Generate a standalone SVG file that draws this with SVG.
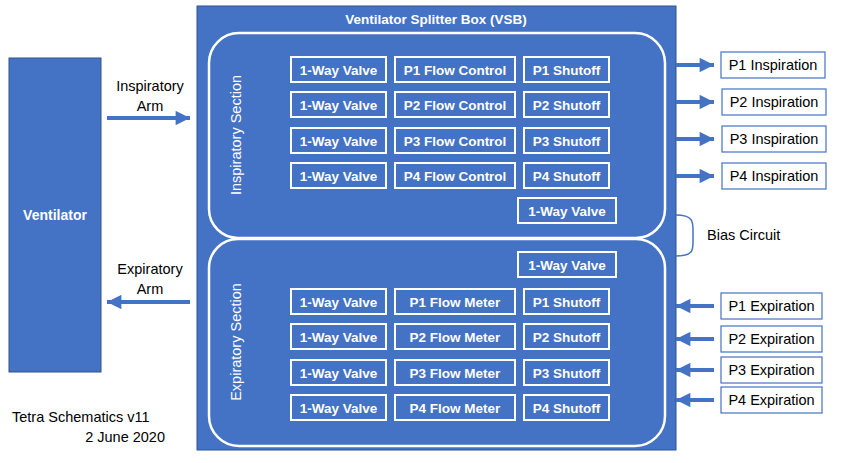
<svg xmlns="http://www.w3.org/2000/svg" width="842" height="463" viewBox="0 0 842 463">
<style>
.blue{fill:#4472C4;stroke:#2F528F;stroke-width:1}
.sec{fill:none;stroke:#fff;stroke-width:2.5}
.cell{fill:none;stroke:#fff;stroke-width:2}
.wt{fill:#fff;font-family:"Liberation Sans",Arial,sans-serif;font-size:13.5px;font-weight:bold;text-anchor:middle}
.st{fill:#fff;font-family:"Liberation Sans",Arial,sans-serif;font-size:14.5px;text-anchor:middle}
.port{fill:#fff;stroke:#4472C4;stroke-width:1.2}
.bt{fill:#000;font-family:"Liberation Sans",Arial,sans-serif;font-size:14.5px;text-anchor:middle}
.lt{fill:#000;font-family:"Liberation Sans",Arial,sans-serif;font-size:14.5px}
.arr{stroke:#4472C4;stroke-width:4;fill:none}
</style>
<defs>
<marker id="ah" viewBox="0 0 10 10" refX="10" refY="5" markerWidth="4" markerHeight="3.6" orient="auto" markerUnits="strokeWidth">
<path d="M0,0 L10,5 L0,10 z" fill="#4472C4"/>
</marker>
</defs>
<g id="ventilator">
<rect class="blue" x="9" y="58" width="92" height="314"/>
<text class="wt" x="55" y="220" style="font-size:14px">Ventilator</text>
</g>
<g id="vsb">
<rect class="blue" x="197" y="6" width="479" height="444"/>
<text class="wt" x="436" y="24">Ventilator Splitter Box (VSB)</text>
</g>
<g id="insp-section">
<path class="sec" d="M209,63 A30,30 0 0 1 239,33 L635,33 A30,30 0 0 1 665,63 L665,209 A29,29 0 0 1 636,238 L238,238 A29,29 0 0 1 209,209 Z"/>
<text class="st" transform="translate(241,135) rotate(-90)">Inspiratory Section</text>
</g>
<g id="exp-section">
<path class="sec" d="M209,268 A29,29 0 0 1 238,239 L636,239 A29,29 0 0 1 665,268 L665,416 A30,30 0 0 1 635,446 L239,446 A30,30 0 0 1 209,416 Z"/>
<text class="st" transform="translate(241,342) rotate(-90)">Expiratory Section</text>
</g>
<g id="insp-row1">
<rect class="cell" x="291" y="57" width="95" height="25"/><text class="wt" x="338.5" y="74.5">1-Way Valve</text>
<rect class="cell" x="395" y="57" width="120" height="25"/><text class="wt" x="455" y="74.5">P1 Flow Control</text>
<rect class="cell" x="524" y="57" width="85" height="25"/><text class="wt" x="566.5" y="74.5">P1 Shutoff</text>
</g>
<g id="insp-row2">
<rect class="cell" x="291" y="92" width="95" height="25"/><text class="wt" x="338.5" y="109.5">1-Way Valve</text>
<rect class="cell" x="395" y="92" width="120" height="25"/><text class="wt" x="455" y="109.5">P2 Flow Control</text>
<rect class="cell" x="524" y="92" width="85" height="25"/><text class="wt" x="566.5" y="109.5">P2 Shutoff</text>
</g>
<g id="insp-row3">
<rect class="cell" x="291" y="128" width="95" height="25"/><text class="wt" x="338.5" y="145.5">1-Way Valve</text>
<rect class="cell" x="395" y="128" width="120" height="25"/><text class="wt" x="455" y="145.5">P3 Flow Control</text>
<rect class="cell" x="524" y="128" width="85" height="25"/><text class="wt" x="566.5" y="145.5">P3 Shutoff</text>
</g>
<g id="insp-row4">
<rect class="cell" x="291" y="163" width="95" height="25"/><text class="wt" x="338.5" y="180.5">1-Way Valve</text>
<rect class="cell" x="395" y="163" width="120" height="25"/><text class="wt" x="455" y="180.5">P4 Flow Control</text>
<rect class="cell" x="524" y="163" width="85" height="25"/><text class="wt" x="566.5" y="180.5">P4 Shutoff</text>
</g>
<g id="insp-valve">
<rect class="cell" x="518" y="198" width="98" height="25"/><text class="wt" x="567" y="215.5">1-Way Valve</text>
</g>
<g id="exp-valve">
<rect class="cell" x="518" y="252" width="98" height="25"/><text class="wt" x="567" y="269.5">1-Way Valve</text>
</g>
<g id="exp-row1">
<rect class="cell" x="291" y="289" width="95" height="25"/><text class="wt" x="338.5" y="306.5">1-Way Valve</text>
<rect class="cell" x="395" y="289" width="120" height="25"/><text class="wt" x="455" y="306.5">P1 Flow Meter</text>
<rect class="cell" x="524" y="289" width="85" height="25"/><text class="wt" x="566.5" y="306.5">P1 Shutoff</text>
</g>
<g id="exp-row2">
<rect class="cell" x="291" y="324" width="95" height="25"/><text class="wt" x="338.5" y="341.5">1-Way Valve</text>
<rect class="cell" x="395" y="324" width="120" height="25"/><text class="wt" x="455" y="341.5">P2 Flow Meter</text>
<rect class="cell" x="524" y="324" width="85" height="25"/><text class="wt" x="566.5" y="341.5">P2 Shutoff</text>
</g>
<g id="exp-row3">
<rect class="cell" x="291" y="360" width="95" height="25"/><text class="wt" x="338.5" y="377.5">1-Way Valve</text>
<rect class="cell" x="395" y="360" width="120" height="25"/><text class="wt" x="455" y="377.5">P3 Flow Meter</text>
<rect class="cell" x="524" y="360" width="85" height="25"/><text class="wt" x="566.5" y="377.5">P3 Shutoff</text>
</g>
<g id="exp-row4">
<rect class="cell" x="291" y="395" width="95" height="25"/><text class="wt" x="338.5" y="412.5">1-Way Valve</text>
<rect class="cell" x="395" y="395" width="120" height="25"/><text class="wt" x="455" y="412.5">P4 Flow Meter</text>
<rect class="cell" x="524" y="395" width="85" height="25"/><text class="wt" x="566.5" y="412.5">P4 Shutoff</text>
</g>
<g id="p1-insp"><rect class="port" x="721" y="52" width="104" height="26"/><text class="bt" x="773" y="70">P1 Inspiration</text></g>
<g id="p2-insp"><rect class="port" x="722" y="89" width="104" height="26"/><text class="bt" x="774" y="107">P2 Inspiration</text></g>
<g id="p3-insp"><rect class="port" x="722" y="126" width="104" height="26"/><text class="bt" x="774" y="144">P3 Inspiration</text></g>
<g id="p4-insp"><rect class="port" x="722" y="163" width="104" height="26"/><text class="bt" x="774" y="181">P4 Inspiration</text></g>
<g id="p1-exp"><rect class="port" x="721" y="293" width="101" height="26"/><text class="bt" x="771.5" y="311">P1 Expiration</text></g>
<g id="p2-exp"><rect class="port" x="721" y="326" width="101" height="26"/><text class="bt" x="771.5" y="344">P2 Expiration</text></g>
<g id="p3-exp"><rect class="port" x="721" y="357" width="101" height="26"/><text class="bt" x="771.5" y="375">P3 Expiration</text></g>
<g id="p4-exp"><rect class="port" x="721" y="387" width="101" height="26"/><text class="bt" x="771.5" y="405">P4 Expiration</text></g>
<g id="connectors">
<line class="arr" x1="107" y1="118" x2="190" y2="118" marker-end="url(#ah)"/>
<line class="arr" x1="190" y1="302" x2="107" y2="302" marker-end="url(#ah)"/>
<line class="arr" x1="676" y1="65" x2="714" y2="65" marker-end="url(#ah)"/>
<line class="arr" x1="676" y1="102" x2="714" y2="102" marker-end="url(#ah)"/>
<line class="arr" x1="676" y1="139" x2="714" y2="139" marker-end="url(#ah)"/>
<line class="arr" x1="676" y1="176" x2="714" y2="176" marker-end="url(#ah)"/>
<line class="arr" x1="714" y1="306" x2="676" y2="306" marker-end="url(#ah)"/>
<line class="arr" x1="714" y1="339" x2="676" y2="339" marker-end="url(#ah)"/>
<line class="arr" x1="714" y1="370" x2="676" y2="370" marker-end="url(#ah)"/>
<line class="arr" x1="714" y1="400" x2="676" y2="400" marker-end="url(#ah)"/>
<path d="M676,215 C693,215 693,222 693,230 L693,242 C693,250 693,256 676,256" fill="none" stroke="#4472C4" stroke-width="1.5"/>
</g>
<g id="labels">
<text class="bt" x="150" y="91">Inspiratory</text>
<text class="bt" x="150" y="111">Arm</text>
<text class="bt" x="150" y="274">Expiratory</text>
<text class="bt" x="150" y="294">Arm</text>
<text class="lt" x="707" y="240">Bias Circuit</text>
<text class="lt" x="12" y="422">Tetra Schematics v11</text>
<text class="lt" x="165" y="442" text-anchor="end">2 June 2020</text>
</g>
</svg>
